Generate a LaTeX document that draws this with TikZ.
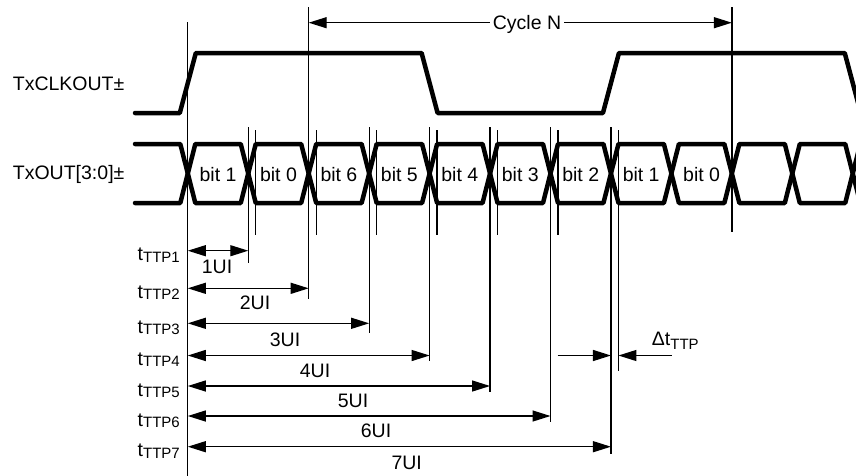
\documentclass[tikz,border=0pt]{standalone}
\usepackage{fontspec}
\setmainfont{Liberation Sans}
\usetikzlibrary{arrows.meta}
\newcommand\subtxt[2][-1.3pt]{{\fontsize{15}{15}\selectfont\raisebox{#1}{#2}}}
\tikzset{
  sig/.style={line width=4.5pt, line cap=round, line join=round},
  guide/.style={line width=1.3pt},
  tipa/.tip={Triangle[length=18pt,width=11pt]},
  dimboth/.style={line width=1.3pt, tipa-tipa},
  dimto/.style={line width=1.3pt, -tipa},
  lbl/.style={font=\fontsize{19.5}{22}\selectfont, inner sep=0pt},
}
\begin{document}
\begin{tikzpicture}[x=1pt,y=-1pt]
\useasboundingbox (0,0) rectangle (856,475);
% crossing positions
\foreach \k in {0,...,11}{
  \coordinate (x\k) at ({187.8+60.45*\k},0);
}
% ---------- waveforms ----------
\begin{scope}
\clip (0,0) rectangle (856,475);
% clock
\draw[sig] (135,113) -- (179.8,113) -- (195.8,53) -- (421.6,53) -- (437.6,113)
  -- (602.95,113) -- (618.95,53) -- (844.75,53) -- (860.75,113);
% data rails
\draw[sig] (135,144)
  \foreach \k [evaluate=\k as \xa using 187.8+60.45*\k-7.5,
               evaluate=\k as \xb using 187.8+60.45*\k+7.5] in {0,2,4,6,8,10}
  { -- (\xa,144) -- (\xb,203) -- (\xa+60.45,203) -- (\xb+60.45,144) };
\draw[sig] (135,203)
  \foreach \k [evaluate=\k as \xa using 187.8+60.45*\k-7.5,
               evaluate=\k as \xb using 187.8+60.45*\k+7.5] in {0,2,4,6,8,10}
  { -- (\xa,203) -- (\xb,144) -- (\xa+60.45,144) -- (\xb+60.45,203) };
\end{scope}
% bit labels
\foreach \k/\t in {0/bit 1,1/bit 0,2/bit 6,3/bit 5,4/bit 4,5/bit 3,6/bit 2,7/bit 1,8/bit 0}{
  \node[lbl, anchor=base] (b\k) at ({187.8+60.45*\k+30.225},181) {\t};
}
% signal names
\node[lbl, anchor=base west] (clk) at (12.7,90) {TxCLKOUT±};
\node[lbl, anchor=base west] (dat) at (12.7,179.5) {TxOUT[3:0]±};
% ---------- guide lines ----------
\draw[guide] (x0|-0,22) -- (x0|-0,476);
\draw[guide] (x1|-0,127) -- (x1|-0,263);
\draw[guide] (x2|-0,7) -- (x2|-0,299);
\draw[guide] (x3|-0,127) -- (x3|-0,333);
\draw[guide] (x4|-0,127) -- (x4|-0,361);
\draw[guide] (x5|-0,127) -- (x5|-0,392);
\draw[guide] (x6|-0,127) -- (x6|-0,422);
\draw[guide] (x7|-0,127) -- (x7|-0,454);
\draw[guide] (x9|-0,7) -- (x9|-0,231.7);
% short (skewed) lines
\foreach \k in {1,...,6}{
  \draw[guide] ([xshift=7.5pt]x\k|-0,130) -- ([xshift=7.5pt]x\k|-0,235);
}
\draw[guide] ([xshift=7.5pt]x7|-0,130) -- ([xshift=7.5pt]x7|-0,371);
\coordinate (s7) at ([xshift=7.5pt]x7|-0,355.5);
% ---------- cycle N ----------
\draw[dimboth] (x2|-0,22.7) -- (x9|-0,22.7);
\node[lbl, anchor=base, fill=white, inner xsep=3pt, inner ysep=1pt] (cyc) at (527,29.3) {Cycle N};
% ---------- tTTP dimensions ----------
\foreach \k/\y/\tb/\ux/\ub in {1/250.7/260.7/217/273.3, 2/288.3/298.3/255/309.3,
    3/323.3/333.3/285/346, 4/355.5/365.5/315/377.5, 5/386/396/353/407,
    6/416/426/376/437, 7/446.7/456.7/406.7/469}{
  \draw[dimboth] (x0|-0,\y) -- (x\k|-0,\y);
  \node[lbl, anchor=base east] (t\k) at (180,\tb) {t\subtxt{TTP\k}};
  \node[lbl, anchor=base] (u\k) at (\ux,\ub) {\k UI};
}
% ---------- delta tTTP ----------
\coordinate (da) at (557.7,355.5);
\coordinate (db) at (671.7,355.5);
\draw[dimto] (da) -- (x7|-da);
\draw[dimto] (db) -- (s7);
\node[lbl, anchor=base west] (dt) at (651.7,345) {Δt\subtxt[-4.3pt]{TTP}};
\end{tikzpicture}
\end{document}
